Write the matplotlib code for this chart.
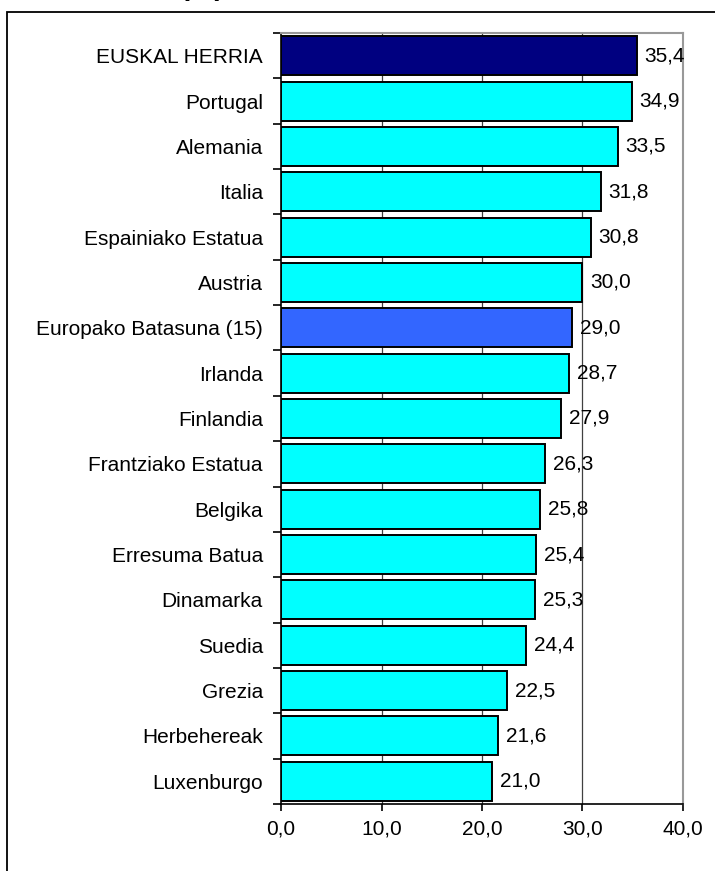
import matplotlib
matplotlib.use("Agg")
import matplotlib.pyplot as plt
from matplotlib.patches import Rectangle

categories = ["EUSKAL HERRIA", "Portugal", "Alemania", "Italia", "Espainiako Estatua",
              "Austria", "Europako Batasuna (15)", "Irlanda", "Finlandia",
              "Frantziako Estatua", "Belgika", "Erresuma Batua", "Dinamarka",
              "Suedia", "Grezia", "Herbehereak", "Luxenburgo"]
values = [35.4, 34.9, 33.5, 31.8, 30.8, 30.0, 29.0, 28.7, 27.9, 26.3, 25.8, 25.4,
          25.3, 24.4, 22.5, 21.6, 21.0]
xticks = [0, 10, 20, 30, 40]
xticklabels = ["0,0", "10,0", "20,0", "30,0", "40,0"]

plt.rcParams['font.family'] = ['Liberation Sans', 'DejaVu Sans']

W, H = 715, 871
fig = plt.figure(figsize=(W / 100, H / 100), dpi=100)

# outer frame (only left and top visible)
fig.add_artist(Rectangle((7 / W, -0.1), 1.2, 1 - 12 / H + 0.1, transform=fig.transFigure,
                         fill=False, edgecolor='black', linewidth=1.3, zorder=0))

# clipped title fragment at very top (only descenders visible)
fig.text(3 / W, 1 + 5 / H, "Datuak, 2001 (%)", ha='left', va='baseline',
         fontsize=20, fontweight='bold')

ax = fig.add_axes([281 / W, 1 - 804 / H, (683 - 281) / W, (804 - 33) / H])

colors = ['#00FFFF'] * len(categories)
colors[0] = '#000080'
colors[6] = '#3366FF'

y = list(range(len(categories)))
ax.barh(y, values, height=0.86, color=colors, edgecolor='black', linewidth=1.4, zorder=3)

for yi, v in zip(y, values):
    ax.text(v + 0.75, yi, f"{v:.1f}".replace('.', ','), va='center', ha='left',
            fontsize=15, zorder=4)

ax.set_ylim(len(categories) - 0.5, -0.5)
ax.set_xlim(0, 40)
ax.set_xticks(xticks)
ax.set_xticklabels(xticklabels, fontsize=15)
ax.set_yticks(y)
ax.set_yticklabels(categories, fontsize=15)
ax.tick_params(axis='y', which='major', length=0, pad=13)
# boundary ticks on y axis
ax.set_yticks([i - 0.5 for i in range(len(categories) + 1)], minor=True)
ax.tick_params(axis='y', which='minor', length=6, width=1.2, color='black', direction='out')
ax.tick_params(axis='x', length=5, width=1.2, direction='out', pad=6)

for xv in xticks[1:-1]:
    ax.axvline(xv, color='#404040', linewidth=0.9, zorder=1)

ax.spines['left'].set_color('black')
ax.spines['bottom'].set_color('black')
ax.spines['left'].set_linewidth(1.2)
ax.spines['bottom'].set_linewidth(1.2)
ax.spines['right'].set_color('#999999')
ax.spines['top'].set_color('#999999')
ax.spines['right'].set_linewidth(1.5)
ax.spines['top'].set_linewidth(1.5)

fig.savefig("out.png", dpi=100)
